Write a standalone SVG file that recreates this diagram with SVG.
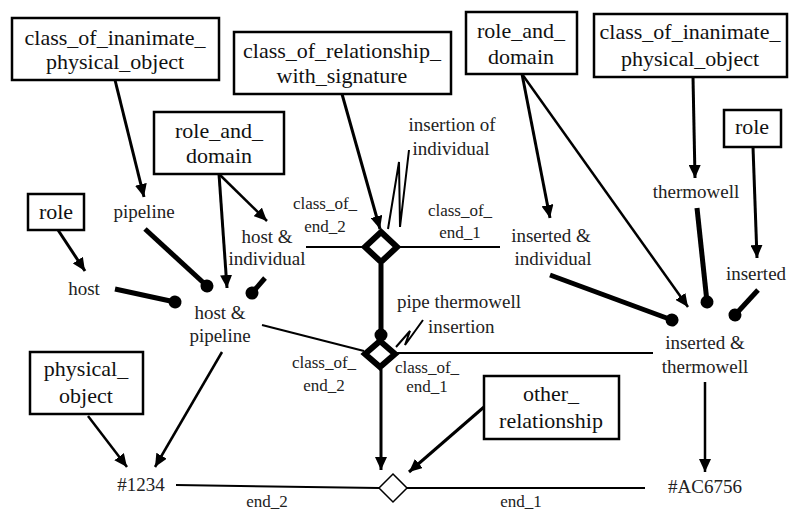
<svg xmlns="http://www.w3.org/2000/svg" width="789" height="512" viewBox="0 0 789 512" font-family="'Times New Roman', 'Liberation Serif', 'DejaVu Serif', serif">
<style>
.box{fill:#fff;stroke:#000;stroke-width:2.5}
.bt{font-size:22px;fill:#111;text-anchor:middle}
.nt{font-size:19px;fill:#222;text-anchor:middle}
.et{font-size:17px;fill:#222;text-anchor:middle}
.st{text-anchor:start}
.thin{fill:none;stroke:#000;stroke-width:2}
.arr{fill:none;stroke:#000;stroke-width:3;marker-end:url(#ah)}
.arr2{fill:none;stroke:#000;stroke-width:2.5;marker-end:url(#ah)}
.dotl{fill:none;stroke:#000;stroke-width:5;marker-end:url(#dt)}
.zig{fill:none;stroke:#000;stroke-width:2}
.rel{fill:#fff;stroke:#000;stroke-width:6;stroke-linejoin:miter}
.rel2{fill:#fff;stroke:#000;stroke-width:1.5}
</style>
<defs>
<marker id="ah" markerUnits="userSpaceOnUse" markerWidth="14" markerHeight="12" refX="13" refY="6" orient="auto">
<path d="M0,0 L13,6 L0,12 z" fill="#000"/>
</marker>
<marker id="dt" markerUnits="userSpaceOnUse" markerWidth="14" markerHeight="14" refX="7" refY="7" orient="auto">
<circle cx="7" cy="7" r="6.5" fill="#000"/>
</marker>
</defs>
<rect width="789" height="512" fill="#fff"/>

<g id="connectors">
<line class="arr" x1="115" y1="80" x2="144" y2="197"/>
<line class="arr2" x1="219" y1="174" x2="267" y2="221"/>
<line class="arr" x1="219" y1="174" x2="227" y2="288"/>
<line class="arr" x1="342" y1="94" x2="380" y2="229"/>
<line class="arr" x1="58" y1="230" x2="85" y2="271"/>
<line class="dotl" x1="145" y1="229" x2="207" y2="286"/>
<line class="dotl" x1="115" y1="289" x2="175" y2="302"/>
<line class="dotl" x1="265" y1="278" x2="252" y2="293"/>
<line class="arr2" x1="222" y1="352" x2="155" y2="467"/>
<line class="arr2" x1="88" y1="416" x2="127" y2="467"/>
<line class="thin" x1="262" y1="325" x2="364" y2="351"/>
<line class="thin" x1="306" y1="247" x2="364" y2="247"/>
<line class="thin" x1="399" y1="247" x2="500" y2="247"/>
<line class="dotl" x1="381" y1="264" x2="381" y2="335"/>
<line class="thin" x1="397" y1="353" x2="653" y2="353"/>
<line class="arr" x1="381" y1="369" x2="381" y2="470"/>
<line class="thin" x1="176" y1="485" x2="379" y2="488"/>
<line class="thin" x1="407" y1="488" x2="645" y2="488"/>
<line class="arr" x1="484" y1="407" x2="409" y2="472"/>
<polyline class="zig" points="388,229 399,162 400,227 409,150"/>
<polyline class="zig" points="396,347 410,331 405,345 423,320"/>
<line class="arr" x1="522" y1="74" x2="550" y2="218"/>
<line class="arr2" x1="522" y1="74" x2="688" y2="307"/>
<line class="arr" x1="693" y1="77" x2="695" y2="178"/>
<line class="arr" x1="753" y1="147" x2="757" y2="258"/>
<line class="dotl" x1="697" y1="208" x2="707" y2="302"/>
<line class="dotl" x1="758" y1="290" x2="735" y2="315"/>
<line class="dotl" x1="550" y1="275" x2="672" y2="320"/>
<line class="arr2" x1="705" y1="382" x2="705" y2="472"/>
</g>

<g id="class_of_inanimate_physical_object_1">
<rect class="box" x="12" y="18" width="207" height="62"/>
<text class="bt" x="115" y="45">class_of_inanimate_</text>
<text class="bt" x="115" y="69">physical_object</text>
</g>
<g id="class_of_relationship_with_signature">
<rect class="box" x="234" y="32" width="217" height="62"/>
<text class="bt" x="342" y="58">class_of_relationship_</text>
<text class="bt" x="342" y="83">with_signature</text>
</g>
<g id="role_and_domain_1">
<rect class="box" x="154" y="112" width="130" height="62"/>
<text class="bt" x="219" y="138">role_and_</text>
<text class="bt" x="219" y="163">domain</text>
</g>
<g id="role_1">
<rect class="box" x="28" y="194" width="56" height="36"/>
<text class="bt" x="56" y="219">role</text>
</g>
<g id="role_and_domain_2">
<rect class="box" x="466" y="12" width="111" height="62"/>
<text class="bt" x="521" y="38">role_and_</text>
<text class="bt" x="521" y="64">domain</text>
</g>
<g id="class_of_inanimate_physical_object_2">
<rect class="box" x="594" y="14" width="193" height="63"/>
<text class="bt" x="690" y="39">class_of_inanimate_</text>
<text class="bt" x="690" y="66">physical_object</text>
</g>
<g id="role_2">
<rect class="box" x="724" y="110" width="57" height="37"/>
<text class="bt" x="752" y="134">role</text>
</g>
<g id="physical_object">
<rect class="box" x="30" y="352" width="113" height="62"/>
<text class="bt" x="86" y="376">physical_</text>
<text class="bt" x="86" y="403">object</text>
</g>
<g id="other_relationship">
<rect class="box" x="484" y="376" width="135" height="63"/>
<text class="bt" x="551" y="401">other_</text>
<text class="bt" x="551" y="428">relationship</text>
</g>

<g id="pipeline"><text class="nt" x="144" y="218">pipeline</text></g>
<g id="host_and_individual"><text class="nt" x="267" y="243">host &amp;</text><text class="nt" x="267" y="265">individual</text></g>
<g id="host"><text class="nt" x="84" y="295">host</text></g>
<g id="host_and_pipeline"><text class="nt" x="220" y="319">host &amp;</text><text class="nt" x="220" y="342">pipeline</text></g>
<g id="inserted_and_individual"><text class="nt" x="551" y="242">inserted &amp;</text><text class="nt" x="553" y="265">individual</text></g>
<g id="thermowell"><text class="nt" x="696" y="198">thermowell</text></g>
<g id="inserted"><text class="nt" x="756" y="280">inserted</text></g>
<g id="inserted_and_thermowell"><text class="nt" x="705" y="349">inserted &amp;</text><text class="nt" x="705" y="373">thermowell</text></g>
<g id="n1234"><text class="nt" x="141" y="491">#1234</text></g>
<g id="nAC6756"><text class="nt" x="705" y="493">#AC6756</text></g>

<g id="insertion_of_individual">
<polygon class="rel" points="381,232 397,247 381,262 365,247"/>
<text class="nt" x="452" y="131">insertion of</text>
<text class="nt" x="451" y="155">individual</text>
</g>
<g id="pipe_thermowell_insertion">
<polygon class="rel" points="380,341 395,354 380,367 365,354"/>
<text class="nt st" x="397" y="308">pipe thermowell</text>
<text class="nt st" x="428" y="333">insertion</text>
</g>
<g id="other_relationship_instance">
<polygon class="rel2" points="393,474 407,488 393,502 379,488"/>
</g>

<g id="end_labels">
<text class="et" x="325" y="209">class_of_</text>
<text class="et" x="325" y="232">end_2</text>
<text class="et" x="460" y="216">class_of_</text>
<text class="et" x="460" y="238">end_1</text>
<text class="et" x="324" y="368">class_of_</text>
<text class="et" x="324" y="391">end_2</text>
<text class="et" x="427" y="373">class_of_</text>
<text class="et" x="427" y="392">end_1</text>
<text class="et" x="267" y="507">end_2</text>
<text class="et" x="521" y="507">end_1</text>
</g>
</svg>
